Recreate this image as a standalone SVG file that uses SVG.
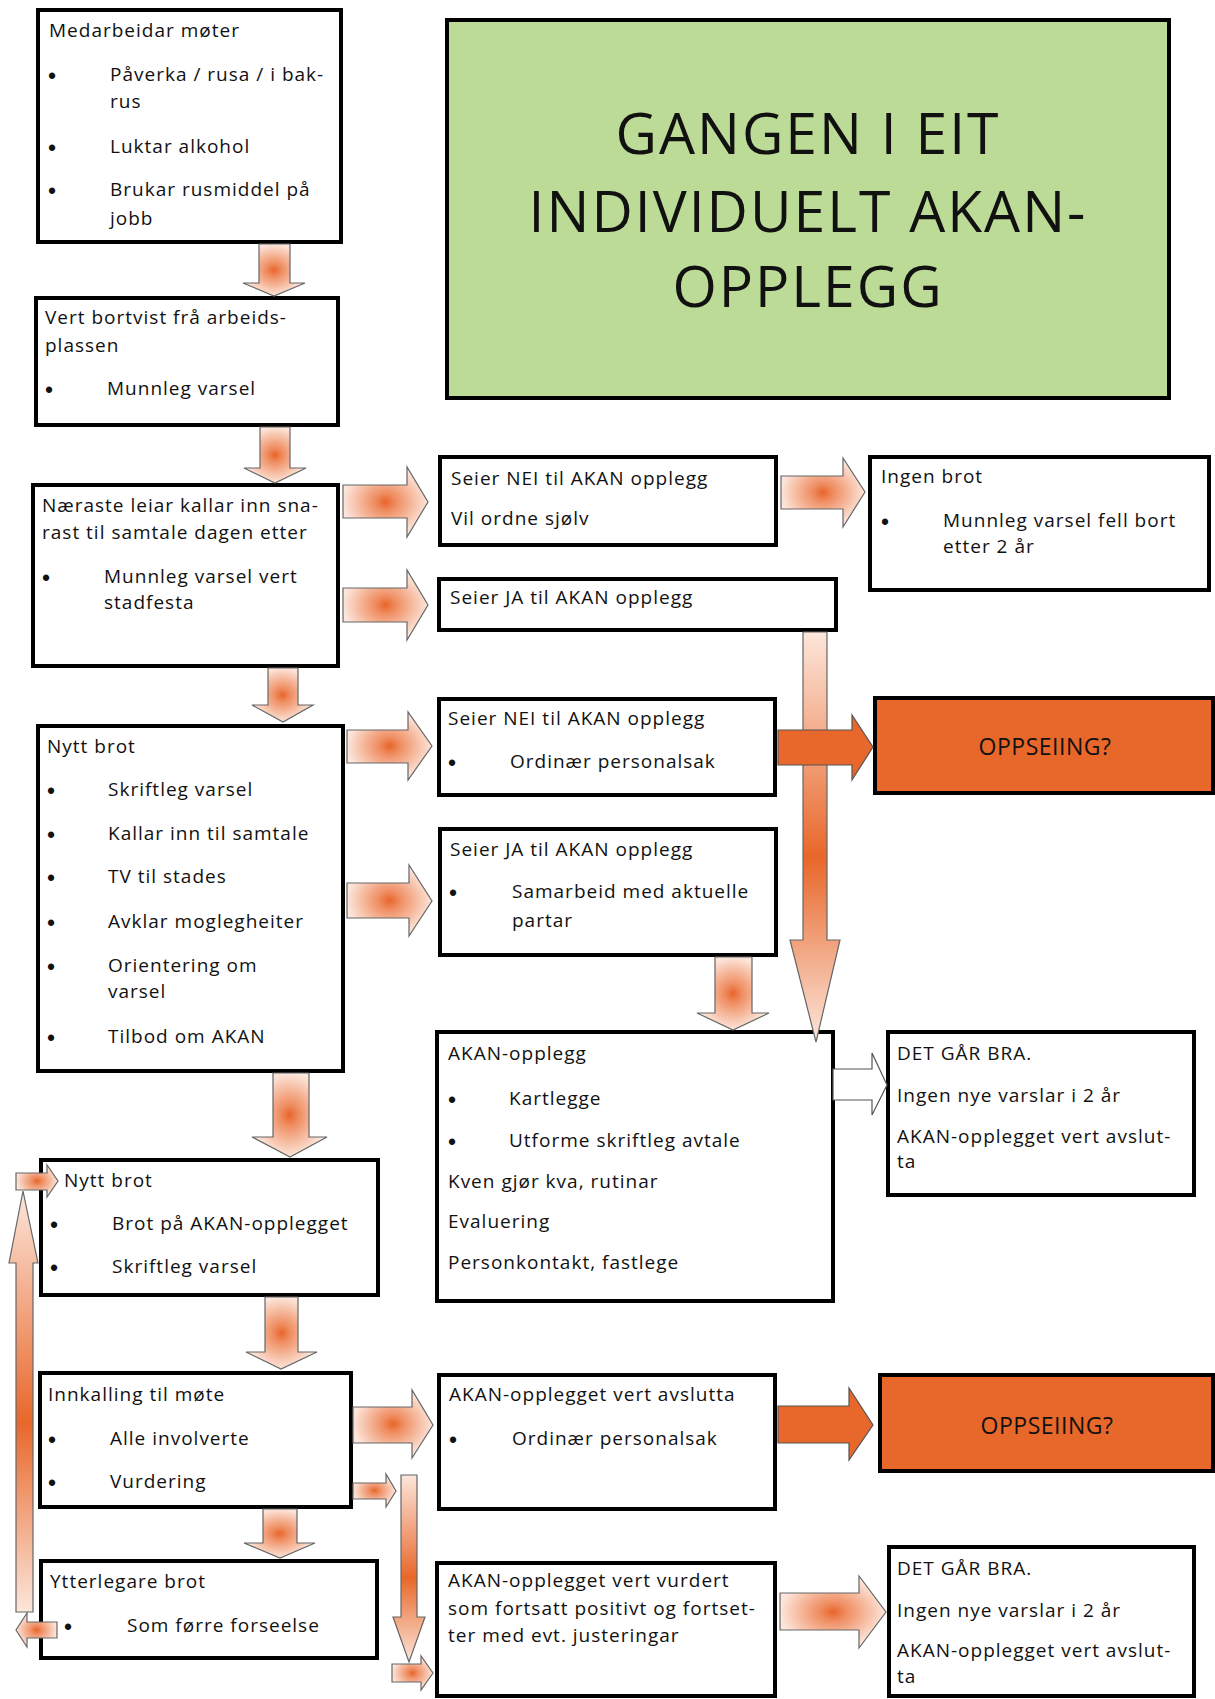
<svg xmlns="http://www.w3.org/2000/svg" width="1215" height="1699" viewBox="0 0 1215 1699">
<style>
  text { font-family: "Open Sans", "DejaVu Sans", sans-serif; fill: #111; }
  .t { font-size: 19px; letter-spacing: 1px; }
  .b { font-family: "Liberation Sans", Arial, sans-serif; font-size: 23px; text-anchor: middle; }
  .title { font-size: 57px; letter-spacing: 2px; text-anchor: middle; }
  .opp { font-size: 23px; letter-spacing: 0.5px; text-anchor: middle; }
  .box { fill: #fff; stroke: #000; stroke-width: 4; }
  .green { fill: #bcdb96; stroke: #000; stroke-width: 4; }
  .orange { fill: #e8672a; stroke: #000; stroke-width: 4; }
  .ar { fill: url(#rg); stroke: #666; stroke-width: 1.2; stroke-linejoin: miter; }
  .av { fill: url(#vg); stroke: #666; stroke-width: 1.2; }
  .as { fill: #e8672a; stroke: #555; stroke-width: 1.2; }
  .ao { fill: #fff; stroke: #555; stroke-width: 1.2; }
</style>
<defs>
  <radialGradient id="rg" cx="0.5" cy="0.5" r="0.5">
    <stop offset="0" stop-color="#e8652a"/>
    <stop offset="0.25" stop-color="#ef8d61"/>
    <stop offset="1" stop-color="#fce6db"/>
  </radialGradient>
  <linearGradient id="vg" x1="0" y1="0" x2="0" y2="1">
    <stop offset="0" stop-color="#fce6db"/>
    <stop offset="0.55" stop-color="#e8672a"/>
    <stop offset="1" stop-color="#fce6db"/>
  </linearGradient>
</defs>

<g id="title">
  <rect class="green" x="447" y="20" width="722" height="378"/>
  <text class="title" x="808" y="154">GANGEN I EIT</text>
  <text class="title" x="808" y="232">INDIVIDUELT AKAN-</text>
  <text class="title" x="808" y="307">OPPLEGG</text>
</g>

<g id="n1">
  <rect class="box" x="38" y="10" width="303" height="232"/>
  <text class="t" x="49" y="37">Medarbeidar møter</text>
  <text class="b" x="52" y="84">•</text><text class="t" x="110" y="81">Påverka / rusa / i bak-</text>
  <text class="t" x="110" y="108">rus</text>
  <text class="b" x="52" y="156">•</text><text class="t" x="110" y="153">Luktar alkohol</text>
  <text class="b" x="52" y="199">•</text><text class="t" x="110" y="196">Brukar rusmiddel på</text>
  <text class="t" x="110" y="225">jobb</text>
</g>

<g id="n2">
  <rect class="box" x="36" y="298" width="302" height="127"/>
  <text class="t" x="45" y="324">Vert bortvist frå arbeids-</text>
  <text class="t" x="45" y="352">plassen</text>
  <text class="b" x="49" y="398">•</text><text class="t" x="107" y="395">Munnleg varsel</text>
</g>

<g id="n3">
  <rect class="box" x="33" y="485" width="305" height="181"/>
  <text class="t" x="42" y="512">Næraste leiar kallar inn sna-</text>
  <text class="t" x="42" y="539">rast til samtale dagen etter</text>
  <text class="b" x="46" y="586">•</text><text class="t" x="104" y="583">Munnleg varsel vert</text>
  <text class="t" x="104" y="609">stadfesta</text>
</g>

<g id="n4">
  <rect class="box" x="38" y="726" width="305" height="345"/>
  <text class="t" x="47" y="753">Nytt brot</text>
  <text class="b" x="51" y="799">•</text><text class="t" x="108" y="796">Skriftleg varsel</text>
  <text class="b" x="51" y="843">•</text><text class="t" x="108" y="840">Kallar inn til samtale</text>
  <text class="b" x="51" y="886">•</text><text class="t" x="108" y="883">TV til stades</text>
  <text class="b" x="51" y="931">•</text><text class="t" x="108" y="928">Avklar moglegheiter</text>
  <text class="b" x="51" y="975">•</text><text class="t" x="108" y="972">Orientering om</text>
  <text class="t" x="108" y="998">varsel</text>
  <text class="b" x="51" y="1046">•</text><text class="t" x="108" y="1043">Tilbod om AKAN</text>
</g>

<g id="n5">
  <rect class="box" x="41" y="1160" width="337" height="135"/>
  <text class="t" x="64" y="1187">Nytt brot</text>
  <text class="b" x="54" y="1233">•</text><text class="t" x="112" y="1230">Brot på AKAN-opplegget</text>
  <text class="b" x="54" y="1276">•</text><text class="t" x="112" y="1273">Skriftleg varsel</text>
</g>

<g id="n6">
  <rect class="box" x="40" y="1373" width="311" height="134"/>
  <text class="t" x="48" y="1401">Innkalling til møte</text>
  <text class="b" x="52" y="1448">•</text><text class="t" x="110" y="1445">Alle involverte</text>
  <text class="b" x="52" y="1491">•</text><text class="t" x="110" y="1488">Vurdering</text>
</g>

<g id="n7">
  <rect class="box" x="41" y="1561" width="336" height="97"/>
  <text class="t" x="50" y="1588">Ytterlegare brot</text>
  <text class="b" x="68" y="1635">•</text><text class="t" x="127" y="1632">Som førre forseelse</text>
</g>

<g id="n8">
  <rect class="box" x="440" y="457" width="336" height="88"/>
  <text class="t" x="451" y="485">Seier NEI til AKAN opplegg</text>
  <text class="t" x="451" y="525">Vil ordne sjølv</text>
</g>

<g id="n9">
  <rect class="box" x="439" y="579" width="397" height="51"/>
  <text class="t" x="450" y="604">Seier JA til AKAN opplegg</text>
</g>

<g id="n10">
  <rect class="box" x="439" y="699" width="336" height="96"/>
  <text class="t" x="448" y="725">Seier NEI til AKAN opplegg</text>
  <text class="b" x="452" y="771">•</text><text class="t" x="510" y="768">Ordinær personalsak</text>
</g>

<g id="n11">
  <rect class="box" x="440" y="829" width="336" height="126"/>
  <text class="t" x="450" y="856">Seier JA til AKAN opplegg</text>
  <text class="b" x="453" y="901">•</text><text class="t" x="512" y="898">Samarbeid med aktuelle</text>
  <text class="t" x="512" y="927">partar</text>
</g>

<g id="n12">
  <rect class="box" x="437" y="1032" width="396" height="269"/>
  <text class="t" x="448" y="1060">AKAN-opplegg</text>
  <text class="b" x="452" y="1108">•</text><text class="t" x="509" y="1105">Kartlegge</text>
  <text class="b" x="452" y="1150">•</text><text class="t" x="509" y="1147">Utforme skriftleg avtale</text>
  <text class="t" x="448" y="1188">Kven gjør kva, rutinar</text>
  <text class="t" x="448" y="1228">Evaluering</text>
  <text class="t" x="448" y="1269">Personkontakt, fastlege</text>
</g>

<g id="n13">
  <rect class="box" x="870" y="457" width="339" height="133"/>
  <text class="t" x="881" y="483">Ingen brot</text>
  <text class="b" x="885" y="530">•</text><text class="t" x="943" y="527">Munnleg varsel fell bort</text>
  <text class="t" x="943" y="553">etter 2 år</text>
</g>

<g id="n14">
  <rect class="orange" x="875" y="698" width="338" height="95"/>
  <text class="opp" x="1045" y="755">OPPSEIING?</text>
</g>

<g id="n15">
  <rect class="box" x="888" y="1032" width="306" height="163"/>
  <text class="t" x="897" y="1060">DET GÅR BRA.</text>
  <text class="t" x="897" y="1102">Ingen nye varslar i 2 år</text>
  <text class="t" x="897" y="1143">AKAN-opplegget vert avslut-</text>
  <text class="t" x="897" y="1168">ta</text>
</g>

<g id="n16">
  <rect class="box" x="439" y="1375" width="336" height="134"/>
  <text class="t" x="449" y="1401">AKAN-opplegget vert avslutta</text>
  <text class="b" x="453" y="1448">•</text><text class="t" x="512" y="1445">Ordinær personalsak</text>
</g>

<g id="n17">
  <rect class="orange" x="880" y="1375" width="333" height="96"/>
  <text class="opp" x="1047" y="1434">OPPSEIING?</text>
</g>

<g id="n18">
  <rect class="box" x="437" y="1563" width="338" height="133"/>
  <text class="t" x="448" y="1587">AKAN-opplegget vert vurdert</text>
  <text class="t" x="448" y="1615">som fortsatt positivt og fortset-</text>
  <text class="t" x="448" y="1642">ter med evt. justeringar</text>
</g>

<g id="n19">
  <rect class="box" x="889" y="1547" width="305" height="149"/>
  <text class="t" x="897" y="1575">DET GÅR BRA.</text>
  <text class="t" x="897" y="1617">Ingen nye varslar i 2 år</text>
  <text class="t" x="897" y="1657">AKAN-opplegget vert avslut-</text>
  <text class="t" x="897" y="1683">ta</text>
</g>

<g id="connectors">
  <polygon class="ar" points="259,244 290,244 290,283 305,283 274,296 243,283 259,283"/>
  <polygon class="ar" points="260,427 290,427 290,468 306,468 275,483 244,468 260,468"/>
  <polygon class="ar" points="268,668 298,668 298,705 313,705 283,722 252,705 268,705"/>
  <polygon class="ar" points="273,1073 309,1073 309,1137 327,1137 290,1157 252,1137 273,1137"/>
  <polygon class="ar" points="265,1297 298,1297 298,1352 317,1352 281,1369 246,1352 265,1352"/>
  <polygon class="ar" points="263,1509 297,1509 297,1543 315,1543 280,1558 244,1543 263,1543"/>
  <polygon class="ar" points="715,957 752,957 752,1013 769,1013 733,1030 697,1013 715,1013"/>
  <polygon class="av" points="803,632 827,632 827,940 840,940 816,1042 790,940 803,940"/>
  <polygon class="av" points="401,1475 417,1475 417,1617 425,1617 409,1662 393,1617 401,1617"/>
  <polygon class="av" points="16,1612 33,1612 33,1263 38,1263 23,1191 9,1263 16,1263"/>
  <polygon class="ar" points="343,485 407,485 407,467 428,502 407,537 407,518 343,518"/>
  <polygon class="ar" points="343,588 407,588 407,570 428,605 407,640 407,622 343,622"/>
  <polygon class="ar" points="347,730 408,730 408,712 432,746 408,780 408,763 347,763"/>
  <polygon class="ar" points="347,883 409,883 409,865 432,901 409,936 409,918 347,918"/>
  <polygon class="ar" points="781,476 843,476 843,458 865,492 843,527 843,509 781,509"/>
  <polygon class="as" points="778,730 852,730 852,715 873,747 852,780 852,765 778,765"/>
  <polygon class="ao" points="833,1069 872,1069 872,1053 887,1085 872,1115 872,1100 833,1100"/>
  <polygon class="ar" points="353,1407 412,1407 412,1390 433,1425 412,1458 412,1443 353,1443"/>
  <polygon class="ar" points="353,1483 386,1483 386,1474 396,1491 386,1507 386,1499 353,1499"/>
  <polygon class="as" points="778,1406 849,1406 849,1388 873,1425 849,1460 849,1443 778,1443"/>
  <polygon class="ar" points="780,1593 859,1593 859,1576 886,1612 859,1648 859,1630 780,1630"/>
  <polygon class="ar" points="392,1664 421,1664 421,1656 433,1673 421,1690 421,1682 392,1682"/>
  <polygon class="ar" points="16,1173 47,1173 47,1165 58,1181 47,1197 47,1190 16,1190"/>
  <polygon class="ar" points="57,1622 27,1622 27,1613 16,1630 27,1647 27,1638 57,1638"/>
</g>
</svg>
